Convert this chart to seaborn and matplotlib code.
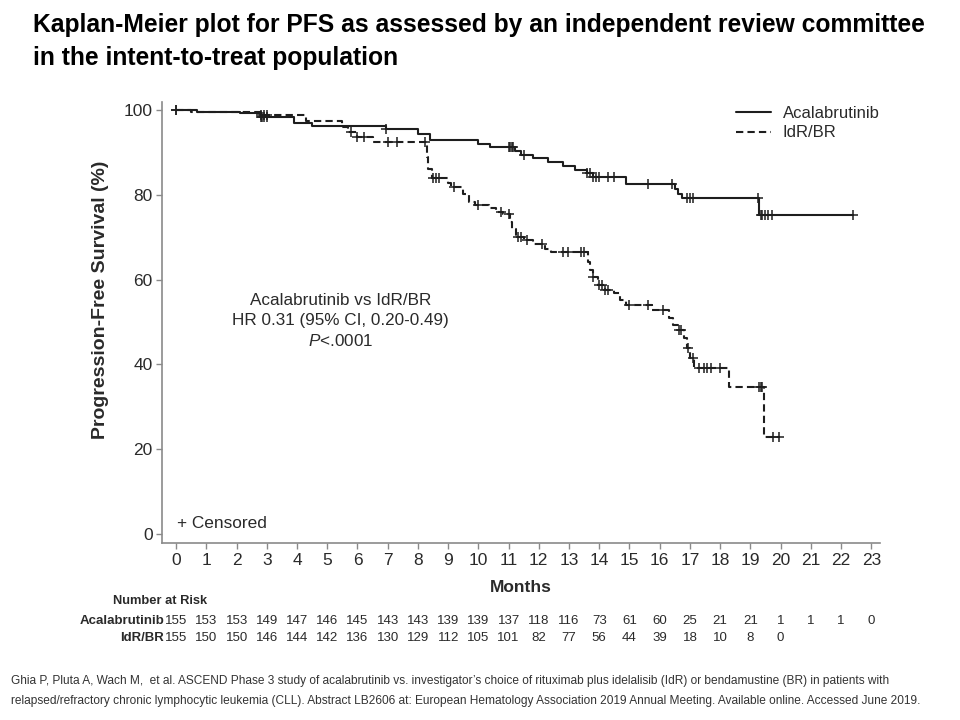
import numpy as np
import pandas as pd
import matplotlib
matplotlib.use("Agg")
import matplotlib.pyplot as plt
import matplotlib.transforms as mtransforms
import seaborn as sns

# ---------------- data ----------------
months_ticks = list(range(0, 24))

acala_t = [0, 0.7, 2.1, 2.8, 3.9, 4.5, 6.95, 8.0, 8.4, 10.0, 10.4, 11.2, 11.4, 11.8,
           12.3, 12.8, 13.2, 13.6, 13.8, 14.9, 16.5, 16.6, 16.75, 19.3, 22.4]
acala_s = [100, 99.6, 99.3, 98.3, 97.0, 96.1, 95.5, 94.3, 93.0, 92.0, 91.2, 90.3, 89.4, 88.7,
           87.6, 86.7, 85.8, 85.0, 84.2, 82.6, 81.3, 80.2, 79.2, 75.2, 75.2]
acala_cens = [0, 2.8, 2.85, 2.9, 3.0, 6.95, 11.0, 11.05, 11.1, 11.15, 11.5, 13.6, 13.7, 13.8,
              13.9, 14.0, 14.3, 14.5, 15.6, 16.4, 16.9, 17.0, 17.1, 19.25, 19.35, 19.4,
              19.5, 19.6, 19.7, 22.4]

idr_t = [0, 0.5, 2.8, 4.3, 5.5, 5.7, 6.0, 6.5, 8.3, 8.35, 8.45, 9.0, 9.1, 9.5, 9.7, 9.9,
         10.35, 10.6, 10.8, 11.05, 11.1, 11.25, 11.5, 11.8, 12.2, 12.4, 13.62, 13.7, 13.8,
         13.95, 14.2, 14.5, 14.7, 14.9, 15.75, 16.3, 16.45, 16.6, 16.8, 16.9, 17.0, 17.15,
         18.3, 19.45, 19.95]
idr_s = [100, 99.4, 98.7, 97.4, 95.9, 94.8, 93.6, 92.5, 89.0, 86.0, 84.0, 82.8, 81.8, 80.2,
         78.3, 77.6, 76.9, 76.0, 75.4, 73.5, 72.0, 70.0, 69.2, 68.4, 67.2, 66.5, 64.2, 62.3,
         60.6, 58.7, 57.6, 56.8, 55.2, 54.0, 52.8, 51.0, 49.3, 48.1, 46.2, 43.9, 41.5, 39.2,
         34.7, 22.9, 22.9]
idr_cens = [0, 2.8, 2.9, 3.0, 5.8, 6.0, 6.2, 7.0, 7.3, 8.25, 8.5, 8.6, 8.7, 9.2, 10.0,
            10.75, 11.0, 11.3, 11.4, 11.6, 12.1, 12.8, 12.95, 13.4, 13.5, 13.8, 14.0, 14.1,
            14.2, 14.3, 15.0, 15.6, 16.1, 16.65, 16.7, 16.95, 17.1, 17.3, 17.45, 17.55, 17.7,
            18.0, 19.3, 19.35, 19.4, 19.75, 19.95]

risk_acala = [155, 153, 153, 149, 147, 146, 145, 143, 143, 139, 139, 137, 118, 116, 73, 61,
              60, 25, 21, 21, 1, 1, 1, 0]
risk_idr = [155, 150, 150, 146, 144, 142, 136, 130, 129, 112, 105, 101, 82, 77, 56, 44, 39,
            18, 10, 8, 0]

series_names = ["Acalabrutinib", "IdR/BR"]
title_lines = ["Kaplan-Meier plot for PFS as assessed by an independent review committee",
               "in the intent-to-treat population"]
annot_lines = ["Acalabrutinib vs IdR/BR", "HR 0.31 (95% CI, 0.20-0.49)", r"$\mathit{P}$<.0001"]
footnote = ["Ghia P, Pluta A, Wach M,  et al. ASCEND Phase 3 study of acalabrutinib vs. investigator\u2019s choice of rituximab plus idelalisib (IdR) or bendamustine (BR) in patients with",
            "relapsed/refractory chronic lymphocytic leukemia (CLL). Abstract LB2606 at: European Hematology Association 2019 Annual Meeting. Available online. Accessed June 2019."]

# ---------------- style ----------------
sns.set_theme(style="white")
plt.rcParams['font.family'] = ['Liberation Sans', 'DejaVu Sans']
plt.rcParams['mathtext.fontset'] = 'custom'
plt.rcParams['mathtext.rm'] = 'Liberation Sans'
plt.rcParams['mathtext.it'] = 'Liberation Sans:italic'

fig = plt.figure(figsize=(9.6, 7.2), dpi=100)
ax = fig.add_axes([0.169, 0.246, 0.748, 0.612])

def surv_at(times, tt, ss):
    idx = np.searchsorted(np.array(tt), np.array(times), side='right') - 1
    return np.array(ss)[idx]

curve_df = pd.concat([
    pd.DataFrame({"t": acala_t, "s": acala_s, "arm": series_names[0]}),
    pd.DataFrame({"t": idr_t, "s": idr_s, "arm": series_names[1]}),
])
cens_df = pd.concat([
    pd.DataFrame({"t": acala_cens, "s": surv_at(acala_cens, acala_t, acala_s), "arm": series_names[0]}),
    pd.DataFrame({"t": idr_cens, "s": surv_at(idr_cens, idr_t, idr_s), "arm": series_names[1]}),
])

line_col = "#1e1e1e"
txt_col = "#2a2a2a"
sns.lineplot(data=curve_df[curve_df.arm == series_names[0]], x="t", y="s", ax=ax,
             estimator=None, drawstyle="steps-post", color=line_col, lw=1.5,
             label=series_names[0])
sns.lineplot(data=curve_df[curve_df.arm == series_names[1]], x="t", y="s", ax=ax,
             estimator=None, drawstyle="steps-post", color=line_col, lw=1.5,
             linestyle=(0, (3.5, 2)), label=series_names[1])
sns.scatterplot(data=cens_df, x="t", y="s", ax=ax, marker="+", s=60, color=line_col,
                linewidth=1.1, legend=False, zorder=3)

ax.set_xlim(-0.46, 23.3)
ax.set_ylim(-2.1, 101.8)
ax.set_xticks(months_ticks)
ax.set_xticklabels([str(m) for m in months_ticks])
ax.set_yticks([0, 20, 40, 60, 80, 100])
for side in ["top", "right"]:
    ax.spines[side].set_visible(False)
for side in ["left", "bottom"]:
    ax.spines[side].set_color("#8a8a8a")
    ax.spines[side].set_linewidth(1.2)
ax.tick_params(axis="both", which="major", direction="out", length=4, width=1,
               color="#8a8a8a", labelsize=12.5, labelcolor=txt_col, pad=3,
               bottom=True, left=True)
ax.set_xlabel("Months", fontsize=12.5, fontweight="bold", color=txt_col, labelpad=9)
ax.set_ylabel("Progression-Free Survival (%)", fontsize=14, fontweight="bold",
              color=txt_col)
ax.yaxis.set_label_coords(-0.074, 0.551)

leg = ax.legend(loc="upper right", bbox_to_anchor=(1.02, 1.025), frameon=False,
                fontsize=12, handlelength=2.1, handletextpad=0.7, labelspacing=0.25)
for t in leg.get_texts():
    t.set_color(txt_col)

ax.text(0.248, 0.566, "\n".join(annot_lines), transform=ax.transAxes, ha="center",
        va="top", fontsize=12.3, color=txt_col, linespacing=1.4)
ax.text(0.02, 0.045, "+ Censored", transform=ax.transAxes,
        fontsize=12.4, color=txt_col, ha="left", va="center")

# number at risk table
trans = mtransforms.blended_transform_factory(ax.transData, fig.transFigure)
fig.text(0.118, 1 - 601 / 720, "Number at Risk", fontsize=9.3, fontweight="bold",
         color=txt_col, ha="left", va="center")
row_y = [1 - 621 / 720, 1 - 638 / 720]
for name, yy, vals in zip(series_names, row_y, [risk_acala, risk_idr]):
    fig.text(0.171, yy, name, fontsize=9.5, fontweight="bold", color=txt_col,
             ha="right", va="center")
    for m, v in zip(months_ticks, vals):
        ax.text(m, yy, str(v), transform=trans, fontsize=9.5, color=txt_col,
                ha="center", va="center")

# title
fig.text(0.034, 1 - 25 / 720, title_lines[0], fontsize=17.7, fontweight="bold",
         color="black", ha="left", va="center")
fig.text(0.034, 1 - 58 / 720, title_lines[1], fontsize=17.7, fontweight="bold",
         color="black", ha="left", va="center")

# footnote
fig.text(0.011, 1 - 681 / 720, footnote[0], fontsize=8.6, color="#333333", ha="left",
         va="center")
fig.text(0.011, 1 - 701 / 720, footnote[1], fontsize=8.6, color="#333333", ha="left",
         va="center")

fig.savefig("out.png", dpi=100)
